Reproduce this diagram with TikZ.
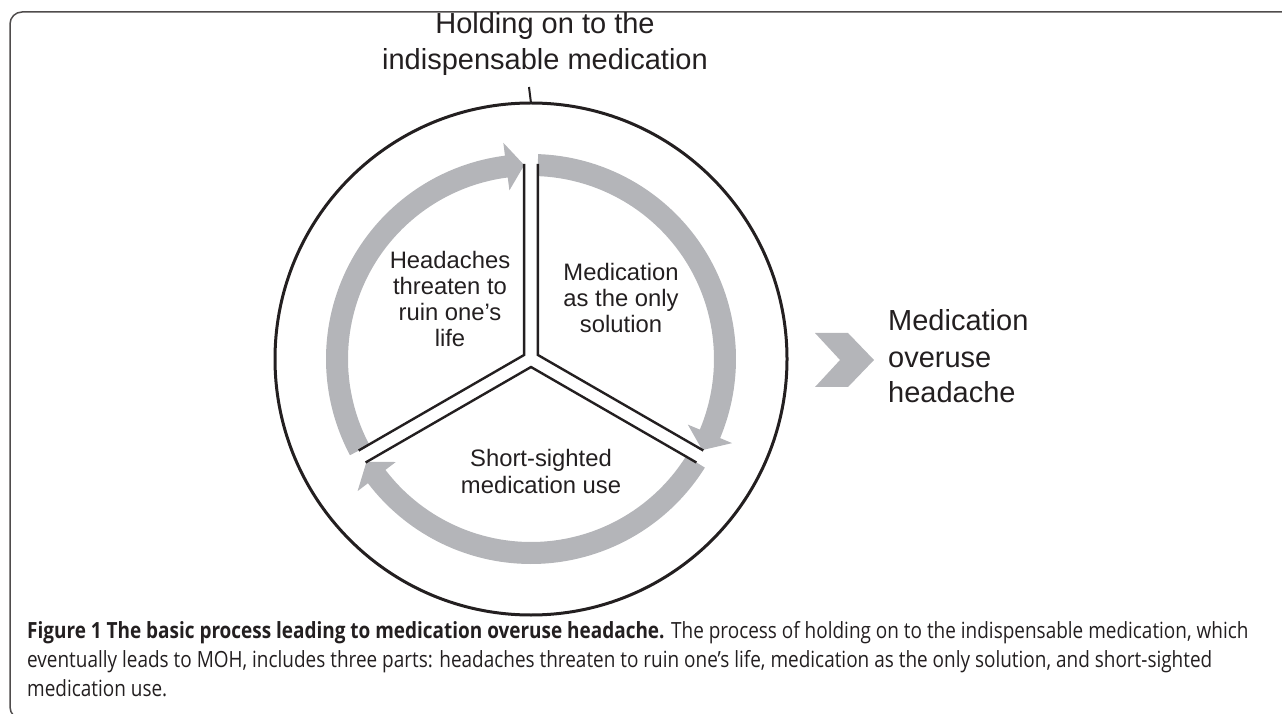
\documentclass[tikz,border=0pt]{standalone}
\usepackage{fontspec}
\setmainfont{Liberation Sans}
\newfontfamily\capfont[FakeStretch=0.85]{Open Sans}
\usetikzlibrary{calc}
\definecolor{arrowgray}{RGB}{180,181,185}
\definecolor{inkblack}{RGB}{35,31,32}
\tikzset{
    divider/.style={draw=inkblack, line width=2.4pt},
    bigtext/.style={font=\fontsize{29}{36}\selectfont, text=inkblack, inner sep=0pt},
    parttext/.style={font=\fontsize{23.8}{26.3}\selectfont, text=inkblack, inner sep=0pt, align=center, anchor=base}
}

\begin{document}
\begin{tikzpicture}[x=1pt, y=1pt]
    \useasboundingbox (0,0) rectangle (1282,713);

    % frame round the figure
    \draw[line width=1.5pt, inkblack!80, rounded corners=12pt] (1300,701) -- (10,701) -- (10,-6) -- (1300,-6);

    \coordinate (O) at (531,354);
    \draw[line width=3pt, inkblack] (O) circle[radius=256];

    % gray arrows, all clockwise
    \foreach \tail/\tip in {208/92, 88/-28, -32/-148} {
        \pgfmathsetmacro{\base}{\tip+5.3}
        \fill[arrowgray] ($(O)+(\tail:205)$) arc[start angle=\tail, end angle=\base, radius=205]
            -- ($(O)+(\base:218)$) -- ($(O)+(\tip:194)$) -- ($(O)+(\base:170)$)
            -- ($(O)+(\base:183)$) arc[start angle=\base, end angle=\tail, radius=183] -- cycle;
    }

    % the three parts
    \coordinate (vL) at ($(O)+(150:8)$);
    \coordinate (vR) at ($(O)+(30:8)$);
    \coordinate (vB) at ($(O)+(270:8)$);
    \draw[divider] ($(vL)+(90:191)$) -- (vL) -- ($(vL)+(210:191)$);
    \draw[divider] ($(vR)+(90:191)$) -- (vR) -- ($(vR)+(330:191)$);
    \draw[divider] ($(vB)+(210:191)$) -- (vB) -- ($(vB)+(330:191)$);

    % (base = last line)
    \node[parttext] (threat) at (450,366) {Headaches\\threaten to\\ruin one’s\\life};
    \node[parttext] (only) at (621,380) {Medication\\as the only\\solution};
    \node[parttext] (short) at (541,220) {Short-sighted\\medication use};

    % title and leader
    \node[bigtext, align=center, anchor=base] (hold) at (545,643) {Holding on to the\\indispensable medication};
    \coordinate (tick) at (529,626);
    \coordinate (rim) at ($(O)+(90:256)$);
    \draw[line width=2pt, inkblack] (tick) -- (rim);

    % result
    \fill[arrowgray] (815,380) -- (848,380) -- (874,353) -- (848,326) -- (815,326) -- (840,353) -- cycle;
    \node[bigtext, align=left, anchor=base west] (moh) at (888,310) {Medication\\overuse\\headache};

    % caption
    \node[font=\capfont\fontsize{22.3}{29}\selectfont, text=inkblack, align=left, anchor=base west, inner sep=0pt] (cap) at (27,17)
        {{\bfseries Figure 1 The basic process leading to medication overuse headache.} The process of holding on to the indispensable medication, which\\
        eventually leads to MOH, includes three parts: headaches threaten to ruin one’s life, medication as the only solution, and short-sighted\\
        medication use.};
\end{tikzpicture}
\end{document}
